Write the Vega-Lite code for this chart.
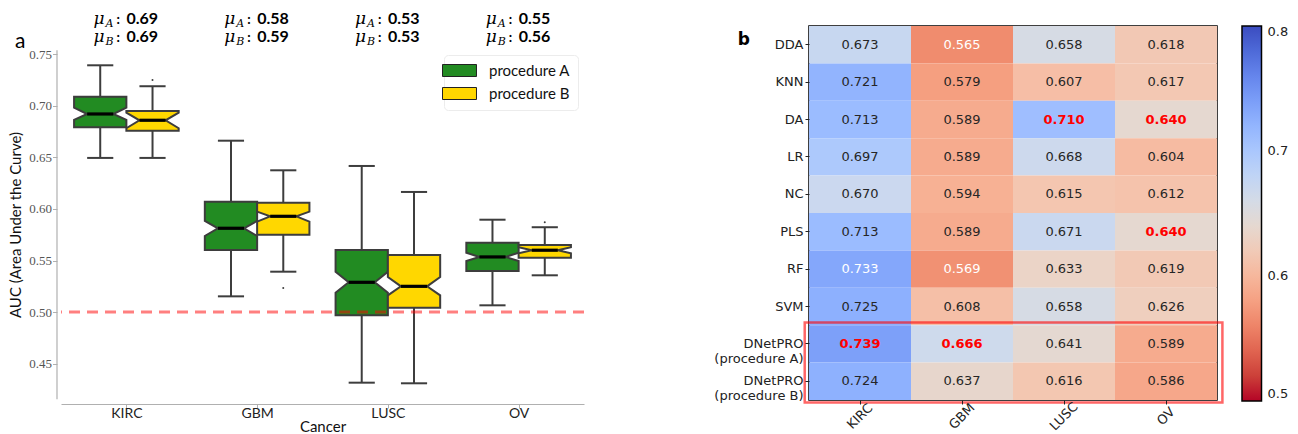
{
  "$schema": "https://vega.github.io/schema/vega-lite/v6.json",
  "background": "white",
  "padding": {"left": 8, "top": 10, "right": 5, "bottom": 5},
  "spacing": 225,
  "bounds": "flush",
  "config": {"view": {"stroke": null}},
  "hconcat": [
    {
      "width": 523,
      "height": 374,
      "data": {"values": [
        {"cancer":"KIRC","procedure":"procedure A","wlo":0.6495,"q1":0.6792,"nlo":0.6863,"med":0.6921,"nhi":0.6982,"q3":0.7089,"whi":0.7393,"mean":0.69},
        {"cancer":"KIRC","procedure":"procedure B","wlo":0.6495,"q1":0.6759,"nlo":0.6783,"med":0.6860,"nhi":0.6934,"q3":0.6950,"whi":0.7190,"mean":0.69},
        {"cancer":"GBM","procedure":"procedure A","wlo":0.5153,"q1":0.5603,"nlo":0.5738,"med":0.5813,"nhi":0.5884,"q3":0.6071,"whi":0.6662,"mean":0.58},
        {"cancer":"GBM","procedure":"procedure B","wlo":0.5392,"q1":0.5751,"nlo":0.5877,"med":0.5929,"nhi":0.5974,"q3":0.6061,"whi":0.6375,"mean":0.59},
        {"cancer":"LUSC","procedure":"procedure A","wlo":0.4316,"q1":0.4969,"nlo":0.5189,"med":0.5289,"nhi":0.5392,"q3":0.5603,"whi":0.6417,"mean":0.53},
        {"cancer":"LUSC","procedure":"procedure B","wlo":0.4310,"q1":0.5043,"nlo":0.5163,"med":0.5250,"nhi":0.5341,"q3":0.5554,"whi":0.6165,"mean":0.53},
        {"cancer":"OV","procedure":"procedure A","wlo":0.5066,"q1":0.5399,"nlo":0.5496,"med":0.5535,"nhi":0.5576,"q3":0.5673,"whi":0.5896,"mean":0.55},
        {"cancer":"OV","procedure":"procedure B","wlo":0.5357,"q1":0.5528,"nlo":0.5571,"med":0.5600,"nhi":0.5629,"q3":0.5651,"whi":0.5823,"mean":0.56}
      ]},
      "transform": [
        {"calculate": "indexof(['KIRC','GBM','LUSC','OV'], datum.cancer)", "as": "ci"},
        {"calculate": "datum.ci + (datum.procedure == 'procedure A' ? -0.2 : 0.2)", "as": "cx"},
        {"calculate": "datum.cx - 0.1", "as": "capL"},
        {"calculate": "datum.cx + 0.1", "as": "capR"}
      ],
      "layer": [
        {
          "mark": {"type": "rule", "color": "#3d3d3d", "strokeWidth": 2},
          "encoding": {
            "x": {"field": "cx", "type": "quantitative", "scale": {"domain": [-0.5, 3.5], "nice": false, "zero": false},
              "axis": {"values": [0, 1, 2, 3], "labelExpr": "['KIRC','GBM','LUSC','OV'][datum.value]", "title": "Cancer", "grid": false, "offset": 4, "domainColor": "#b0b0b0", "domainWidth": 1.2, "tickColor": "#b0b0b0", "tickSize": 4, "labelFont": "Lato", "labelFontSize": 14, "labelColor": "#222", "labelPadding": -2, "titleFont": "Lato", "titleFontSize": 15, "titleFontWeight": "normal", "titleColor": "#111", "titlePadding": -1}},
            "y": {"field": "wlo", "type": "quantitative", "scale": {"domain": [0.4148, 0.7774], "nice": false, "zero": false},
              "axis": {"values": [0.45, 0.5, 0.55, 0.6, 0.65, 0.7, 0.75], "format": ".2f", "title": "AUC (Area Under the Curve)", "domain": false, "grid": false, "offset": 4, "labelFont": "Liberation Serif", "labelFontSize": 13, "labelColor": "#555", "tickColor": "#b0b0b0", "tickSize": 4.5, "labelPadding": 1, "titleFont": "Lato", "titleFontSize": 15, "titleFontWeight": "normal", "titleColor": "#111", "titlePadding": 5, "titleY": 198.5}},
            "y2": {"field": "q1"}
          }
        },
        {
          "mark": {"type": "rule", "color": "#3d3d3d", "strokeWidth": 2},
          "encoding": {
            "x": {"field": "cx", "type": "quantitative"},
            "y": {"field": "q3", "type": "quantitative"},
            "y2": {"field": "whi"}
          }
        },
        {
          "mark": {"type": "rule", "color": "#3d3d3d", "strokeWidth": 2},
          "encoding": {
            "x": {"field": "capL", "type": "quantitative"},
            "x2": {"field": "capR"},
            "y": {"field": "whi", "type": "quantitative"}
          }
        },
        {
          "mark": {"type": "rule", "color": "#3d3d3d", "strokeWidth": 2},
          "encoding": {
            "x": {"field": "capL", "type": "quantitative"},
            "x2": {"field": "capR"},
            "y": {"field": "wlo", "type": "quantitative"}
          }
        },
        {
          "transform": [
            {"fold": ["q1", "nlo", "med", "nhi", "q3"], "as": ["stat", "v"]},
            {"calculate": "datum.stat == 'med' ? 0.1 : 0.2", "as": "hw"},
            {"calculate": "datum.cx - datum.hw", "as": "xl"},
            {"calculate": "datum.cx + datum.hw", "as": "xr"}
          ],
          "mark": {"type": "area", "orient": "horizontal", "stroke": "#3d3d3d", "strokeWidth": 2, "strokeJoin": "miter", "opacity": 1, "fillOpacity": 1},
          "encoding": {
            "y": {"field": "v", "type": "quantitative"},
            "x": {"field": "xl", "type": "quantitative", "stack": null},
            "x2": {"field": "xr"},
            "color": {"field": "procedure", "type": "nominal", "scale": {"domain": ["procedure A", "procedure B"], "range": ["#228b22", "#ffd700"]},
              "legend": {"title": null, "orient": "none", "legendX": 383, "legendY": 29, "padding": 8, "fillColor": "white", "strokeColor": "#ececec", "cornerRadius": 4, "symbolType": "M-2.833,-1H2.833V1H-2.833Z", "symbolSize": 144, "symbolStrokeColor": "#222", "symbolStrokeWidth": 1, "symbolOpacity": 1, "labelFont": "Lato", "labelFontSize": 15, "labelColor": "#111", "labelOffset": 22, "rowPadding": 6}},
            "detail": {"field": "cancer"}
          }
        },
        {
          "mark": {"type": "rule", "color": "black", "strokeWidth": 3.2},
          "encoding": {
            "x": {"field": "capL", "type": "quantitative"},
            "x2": {"field": "capR"},
            "y": {"field": "med", "type": "quantitative"}
          }
        },
        {
          "data": {"values": [
            {"cancer": "KIRC", "procedure": "procedure B", "v": 0.7251},
            {"cancer": "GBM", "procedure": "procedure B", "v": 0.5234},
            {"cancer": "OV", "procedure": "procedure B", "v": 0.5871}
          ]},
          "transform": [
            {"calculate": "indexof(['KIRC','GBM','LUSC','OV'], datum.cancer) + (datum.procedure == 'procedure A' ? -0.2 : 0.2)", "as": "ox"}
          ],
          "mark": {"type": "point", "filled": true, "size": 4, "color": "#3d3d3d", "opacity": 1},
          "encoding": {
            "x": {"field": "ox", "type": "quantitative"},
            "y": {"field": "v", "type": "quantitative"}
          }
        },
        {
          "transform": [{"filter": "datum.procedure == 'procedure A'"}],
          "mark": {"type": "text", "text": "μ", "font": "DejaVu Serif", "fontStyle": "italic", "fontSize": 17, "align": "left", "baseline": "alphabetic", "dx": -33},
          "encoding": {"x": {"field": "ci", "type": "quantitative"}, "y": {"datum": 0.7791}}
        },
        {
          "transform": [{"filter": "datum.procedure == 'procedure A'"}],
          "mark": {"type": "text", "text": "A", "font": "DejaVu Serif", "fontStyle": "italic", "fontSize": 11, "align": "left", "baseline": "alphabetic", "dx": -21, "dy": 3},
          "encoding": {"x": {"field": "ci", "type": "quantitative"}, "y": {"datum": 0.7791}}
        },
        {
          "transform": [{"filter": "datum.procedure == 'procedure A'"}],
          "mark": {"type": "text", "text": ":", "font": "DejaVu Serif", "fontSize": 16, "align": "left", "baseline": "alphabetic", "dx": -11},
          "encoding": {"x": {"field": "ci", "type": "quantitative"}, "y": {"datum": 0.7791}}
        },
        {
          "transform": [{"filter": "datum.procedure == 'procedure A'"}],
          "mark": {"type": "text", "font": "Lato", "fontWeight": "bold", "fontSize": 16, "align": "left", "baseline": "alphabetic", "dx": 0},
          "encoding": {"x": {"field": "ci", "type": "quantitative"}, "y": {"datum": 0.7791}, "text": {"field": "mean", "type": "quantitative", "format": ".2f"}}
        },
        {
          "transform": [{"filter": "datum.procedure == 'procedure B'"}],
          "mark": {"type": "text", "text": "μ", "font": "DejaVu Serif", "fontStyle": "italic", "fontSize": 17, "align": "left", "baseline": "alphabetic", "dx": -33},
          "encoding": {"x": {"field": "ci", "type": "quantitative"}, "y": {"datum": 0.7616}}
        },
        {
          "transform": [{"filter": "datum.procedure == 'procedure B'"}],
          "mark": {"type": "text", "text": "B", "font": "DejaVu Serif", "fontStyle": "italic", "fontSize": 11, "align": "left", "baseline": "alphabetic", "dx": -21, "dy": 3},
          "encoding": {"x": {"field": "ci", "type": "quantitative"}, "y": {"datum": 0.7616}}
        },
        {
          "transform": [{"filter": "datum.procedure == 'procedure B'"}],
          "mark": {"type": "text", "text": ":", "font": "DejaVu Serif", "fontSize": 16, "align": "left", "baseline": "alphabetic", "dx": -11},
          "encoding": {"x": {"field": "ci", "type": "quantitative"}, "y": {"datum": 0.7616}}
        },
        {
          "transform": [{"filter": "datum.procedure == 'procedure B'"}],
          "mark": {"type": "text", "font": "Lato", "fontWeight": "bold", "fontSize": 16, "align": "left", "baseline": "alphabetic", "dx": 0},
          "encoding": {"x": {"field": "ci", "type": "quantitative"}, "y": {"datum": 0.7616}, "text": {"field": "mean", "type": "quantitative", "format": ".2f"}}
        },
        {
          "data": {"values": [{}]},
          "mark": {"type": "rule", "color": "#ff0000", "opacity": 0.5, "strokeWidth": 3, "strokeDash": [11, 7]},
          "encoding": {"y": {"datum": 0.5}}
        },
        {
          "data": {"values": [{}]},
          "mark": {"type": "rule", "color": "#b0b0b0", "strokeWidth": 1.2, "clip": false},
          "encoding": {"x": {"datum": -0.5306}, "y": {"datum": 0.4155}, "y2": {"datum": 0.7539}}
        },
        {
          "data": {"values": [{}]},
          "mark": {"type": "text", "text": "a", "font": "Lato", "fontSize": 21, "align": "left", "baseline": "alphabetic", "clip": false},
          "encoding": {"x": {"datum": -0.852}, "y": {"datum": 0.7564}}
        }
      ]
    },
    {
      "width": 408,
      "height": 374,
      "view": {"stroke": "black", "strokeWidth": 1.5},
      "layer": [
        {
          "data": {"values": [
            {"method":"DDA","cancer":"KIRC","auc":0.673},{"method":"DDA","cancer":"GBM","auc":0.565},{"method":"DDA","cancer":"LUSC","auc":0.658},{"method":"DDA","cancer":"OV","auc":0.618},
            {"method":"KNN","cancer":"KIRC","auc":0.721},{"method":"KNN","cancer":"GBM","auc":0.579},{"method":"KNN","cancer":"LUSC","auc":0.607},{"method":"KNN","cancer":"OV","auc":0.617},
            {"method":"DA","cancer":"KIRC","auc":0.713},{"method":"DA","cancer":"GBM","auc":0.589},{"method":"DA","cancer":"LUSC","auc":0.710},{"method":"DA","cancer":"OV","auc":0.640},
            {"method":"LR","cancer":"KIRC","auc":0.697},{"method":"LR","cancer":"GBM","auc":0.589},{"method":"LR","cancer":"LUSC","auc":0.668},{"method":"LR","cancer":"OV","auc":0.604},
            {"method":"NC","cancer":"KIRC","auc":0.670},{"method":"NC","cancer":"GBM","auc":0.594},{"method":"NC","cancer":"LUSC","auc":0.615},{"method":"NC","cancer":"OV","auc":0.612},
            {"method":"PLS","cancer":"KIRC","auc":0.713},{"method":"PLS","cancer":"GBM","auc":0.589},{"method":"PLS","cancer":"LUSC","auc":0.671},{"method":"PLS","cancer":"OV","auc":0.640},
            {"method":"RF","cancer":"KIRC","auc":0.733},{"method":"RF","cancer":"GBM","auc":0.569},{"method":"RF","cancer":"LUSC","auc":0.633},{"method":"RF","cancer":"OV","auc":0.619},
            {"method":"SVM","cancer":"KIRC","auc":0.725},{"method":"SVM","cancer":"GBM","auc":0.608},{"method":"SVM","cancer":"LUSC","auc":0.658},{"method":"SVM","cancer":"OV","auc":0.626},
            {"method":"DNetPRO (procedure A)","cancer":"KIRC","auc":0.739},{"method":"DNetPRO (procedure A)","cancer":"GBM","auc":0.666},{"method":"DNetPRO (procedure A)","cancer":"LUSC","auc":0.641},{"method":"DNetPRO (procedure A)","cancer":"OV","auc":0.589},
            {"method":"DNetPRO (procedure B)","cancer":"KIRC","auc":0.724},{"method":"DNetPRO (procedure B)","cancer":"GBM","auc":0.637},{"method":"DNetPRO (procedure B)","cancer":"LUSC","auc":0.616},{"method":"DNetPRO (procedure B)","cancer":"OV","auc":0.586}
          ]},
          "transform": [{"joinaggregate": [{"op": "max", "field": "auc", "as": "colmax"}], "groupby": ["cancer"]}],
          "encoding": {
            "x": {"field": "cancer", "type": "nominal", "scale": {"domain": ["KIRC", "GBM", "LUSC", "OV"], "paddingInner": 0, "paddingOuter": 0},
              "axis": {"title": null, "labelAngle": -45, "labelAlign": "center", "labelBaseline": "middle", "labelPadding": 12, "tickSize": 4, "tickColor": "#222", "domain": false, "labelFont": "DejaVu Sans", "labelFontSize": 13, "labelColor": "#222"}},
            "y": {"field": "method", "type": "nominal", "scale": {"domain": ["DDA", "KNN", "DA", "LR", "NC", "PLS", "RF", "SVM", "DNetPRO (procedure A)", "DNetPRO (procedure B)"], "paddingInner": 0, "paddingOuter": 0},
              "axis": {"title": null, "tickSize": 4, "tickColor": "#222", "domain": false, "labelFont": "DejaVu Sans", "labelFontSize": 13, "labelColor": "#222", "labelPadding": 2, "labelLineHeight": 15,
                "labelExpr": "datum.value == 'DNetPRO (procedure A)' ? ['DNetPRO', '(procedure A)'] : datum.value == 'DNetPRO (procedure B)' ? ['DNetPRO', '(procedure B)'] : datum.value"}}
          },
          "layer": [
            {
              "mark": {"type": "rect"},
              "encoding": {
                "color": {"field": "auc", "type": "quantitative",
                  "scale": {"domain": [0.5, 0.51875, 0.5375, 0.55625, 0.575, 0.59375, 0.6125, 0.63125, 0.65, 0.66875, 0.6875, 0.70625, 0.725, 0.74375, 0.7625, 0.78125, 0.8],
                    "range": ["#b40426", "#cb3e38", "#de604d", "#ec7f63", "#f49a7b", "#f7b194", "#f5c4ad", "#ecd3c5", "#dddddd", "#ccd9ee", "#b8d0f9", "#a3c2ff", "#8db0fe", "#779af7", "#6282ea", "#4d68d7", "#3b4cc0"], "interpolate": "rgb"},
                  "legend": {"title": null, "orient": "right", "offset": 25, "direction": "vertical", "gradientLength": 375, "gradientThickness": 19.5, "gradientStrokeColor": "#000", "gradientStrokeWidth": 1.5, "values": [0.5, 0.6, 0.7, 0.8], "format": ".1f", "labelFont": "DejaVu Sans", "labelFontSize": 13, "labelColor": "#222", "labelBaseline": "middle", "labelOffset": 6, "padding": 0}}
              }
            },
            {
              "transform": [{"filter": "datum.auc != datum.colmax"}],
              "mark": {"type": "text", "font": "DejaVu Sans", "fontSize": 13},
              "encoding": {
                "text": {"field": "auc", "type": "quantitative", "format": ".3f"},
                "color": {"condition": {"test": "datum.auc >= 0.73 || datum.auc <= 0.57", "value": "white"}, "value": "#262626"}
              }
            },
            {
              "transform": [{"filter": "datum.auc == datum.colmax"}],
              "mark": {"type": "text", "font": "DejaVu Sans", "fontSize": 13, "fontWeight": "bold", "color": "#ff0000"},
              "encoding": {
                "text": {"field": "auc", "type": "quantitative", "format": ".3f"}
              }
            }
          ]
        },
        {
          "data": {"values": [{}]},
          "encoding": {
            "x": {"datum": -0.042, "type": "quantitative", "scale": {"domain": [0, 4], "nice": false, "zero": false}, "axis": null},
            "y": {"datum": 7.93, "type": "quantitative", "scale": {"domain": [0, 10], "reverse": true, "nice": false, "zero": false}, "axis": null}
          },
          "layer": [
            {
              "mark": {"type": "rect", "fill": null, "fillOpacity": 0, "stroke": "#ff0000", "strokeOpacity": 0.6, "strokeWidth": 2.5, "clip": false},
              "encoding": {"x2": {"datum": 4.053}, "y2": {"datum": 10.07}}
            },
            {
              "mark": {"type": "text", "text": "b", "font": "DejaVu Sans", "fontWeight": "bold", "fontSize": 17, "align": "left", "baseline": "alphabetic", "clip": false},
              "encoding": {"x": {"datum": -0.699, "type": "quantitative"}, "y": {"datum": 0.495, "type": "quantitative"}}
            }
          ]
        }
      ],
      "resolve": {"scale": {"x": "independent", "y": "independent"}}
    }
  ]
}
